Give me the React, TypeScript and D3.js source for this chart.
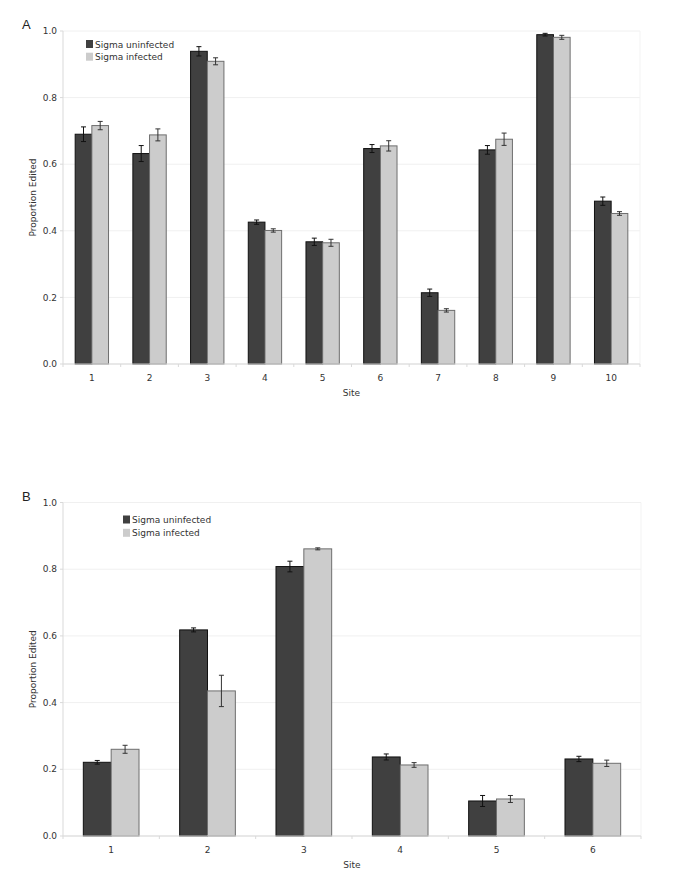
import React from "react";
import * as d3 from "d3";

// Panel A data
const sitesA = ["1", "2", "3", "4", "5", "6", "7", "8", "9", "10"];
const uninfA = [0.69, 0.632, 0.939, 0.426, 0.367, 0.647, 0.214, 0.643, 0.989, 0.489];
const uninfErrA = [0.022, 0.024, 0.014, 0.0065, 0.011, 0.012, 0.011, 0.013, 0.004, 0.0125];
const infA = [0.716, 0.688, 0.909, 0.401, 0.364, 0.655, 0.161, 0.675, 0.981, 0.452];
const infErrA = [0.0125, 0.018, 0.0105, 0.005, 0.0105, 0.0155, 0.005, 0.0185, 0.006, 0.0055];

// Panel B data
const sitesB = ["1", "2", "3", "4", "5", "6"];
const uninfB = [0.221, 0.618, 0.808, 0.237, 0.105, 0.231];
const uninfErrB = [0.0055, 0.006, 0.016, 0.009, 0.0165, 0.008];
const infB = [0.26, 0.435, 0.861, 0.213, 0.111, 0.218];
const infErrB = [0.012, 0.047, 0.003, 0.007, 0.0105, 0.0095];

const yTicks = [0, 0.2, 0.4, 0.6, 0.8, 1.0];
const seriesNames = ["Sigma uninfected", "Sigma infected"];
const yLabel = "Proportion Edited";
const xLabel = "Site";

const FONT = "DejaVu Sans, Verdana, sans-serif";
const DARK = "#404040";
const LIGHT = "#cccccc";

interface PanelProps {
  letter: string;
  sites: string[];
  s1: number[];
  e1: number[];
  s2: number[];
  e2: number[];
  left: number;
  right: number;
  top: number;
  bottom: number;
  legendX: number;
  legendY: number;
  legendGap: number;
}

function Panel(p: PanelProps) {
  const x = d3.scaleBand<string>().domain(p.sites).range([p.left, p.right]).padding(0);
  const inner = d3
    .scaleBand<string>()
    .domain(["s1", "s2"])
    .range([0, x.bandwidth()])
    .paddingInner(0)
    .paddingOuter(0.73);
  const y = d3.scaleLinear().domain([0, 1]).range([p.bottom, p.top]);
  const bw = inner.bandwidth();
  const cap = 2.5;

  const series = [
    { key: "s1", vals: p.s1, errs: p.e1, fill: DARK, stroke: "#111111", err: "#111111" },
    { key: "s2", vals: p.s2, errs: p.e2, fill: LIGHT, stroke: "#6e6e6e", err: "#333333" },
  ];

  const boundaries = p.sites.map((s) => x(s) as number).concat([p.right]);

  return (
    <g>
      <text x={22} y={p.top - 2} fontFamily="Arial, Liberation Sans, sans-serif" fontSize={13} fill="#222">
        {p.letter}
      </text>
      {/* gridlines */}
      {yTicks.map((t) => (
        <line key={"g" + t} x1={p.left} x2={p.right} y1={y(t)} y2={y(t)} stroke="#f0f0f0" strokeWidth={1} />
      ))}
      <line x1={p.right} x2={p.right} y1={p.top} y2={p.bottom} stroke="#f3f3f3" strokeWidth={1} />
      {/* y axis */}
      <line x1={p.left} x2={p.left} y1={p.top} y2={p.bottom} stroke="#d9d9d9" strokeWidth={1} />
      {yTicks.map((t) => (
        <g key={"yt" + t}>
          <line x1={p.left - 3} x2={p.left} y1={y(t)} y2={y(t)} stroke="#d9d9d9" />
          <text
            x={p.left - 6}
            y={y(t)}
            dy="0.35em"
            textAnchor="end"
            fontFamily={FONT}
            fontSize={9}
            fill="#333"
          >
            {d3.format(".1f")(t)}
          </text>
        </g>
      ))}
      {/* bars */}
      {series.map((s) =>
        p.sites.map((site, i) => {
          const bx = (x(site) as number) + (inner(s.key) as number);
          const v = s.vals[i];
          const e = s.errs[i];
          const cx = bx + bw / 2;
          return (
            <g key={s.key + site}>
              <rect
                x={bx}
                y={y(v)}
                width={bw}
                height={y(0) - y(v)}
                fill={s.fill}
                stroke={s.stroke}
                strokeWidth={1}
              />
              <line x1={cx} x2={cx} y1={y(v + e)} y2={y(v - e)} stroke={s.err} strokeWidth={1} />
              <line x1={cx - cap} x2={cx + cap} y1={y(v + e)} y2={y(v + e)} stroke={s.err} strokeWidth={1} />
              <line x1={cx - cap} x2={cx + cap} y1={y(v - e)} y2={y(v - e)} stroke={s.err} strokeWidth={1} />
            </g>
          );
        })
      )}
      {/* x axis */}
      <line x1={p.left} x2={p.right} y1={p.bottom} y2={p.bottom} stroke="#d9d9d9" strokeWidth={1} />
      {boundaries.map((bx, i) => (
        <line key={"xt" + i} x1={bx} x2={bx} y1={p.bottom} y2={p.bottom + 3} stroke="#d9d9d9" />
      ))}
      {p.sites.map((site) => (
        <text
          key={"xl" + site}
          x={(x(site) as number) + x.bandwidth() / 2}
          y={p.bottom + 17}
          textAnchor="middle"
          fontFamily={FONT}
          fontSize={9}
          fill="#333"
        >
          {site}
        </text>
      ))}
      <text
        x={(p.left + p.right) / 2}
        y={p.bottom + 32}
        textAnchor="middle"
        fontFamily={FONT}
        fontSize={9}
        fill="#333"
      >
        {xLabel}
      </text>
      <text
        transform={`translate(36,${(p.top + p.bottom) / 2}) rotate(-90)`}
        textAnchor="middle"
        fontFamily={FONT}
        fontSize={9}
        fill="#333"
      >
        {yLabel}
      </text>
      {/* legend */}
      {seriesNames.map((n, i) => (
        <g key={"lg" + n}>
          <rect
            x={p.legendX}
            y={p.legendY + i * p.legendGap}
            width={7}
            height={8}
            fill={i === 0 ? DARK : LIGHT}
          />
          <text
            x={p.legendX + 9}
            y={p.legendY + i * p.legendGap + 7.5}
            fontFamily={FONT}
            fontSize={9}
            fill="#333"
          >
            {n}
          </text>
        </g>
      ))}
    </g>
  );
}

export default function App() {
  return (
    <svg
      width={685}
      height={883}
      style={{ position: "absolute", left: 0, top: 0, background: "#fff" }}
    >
      <rect x={0} y={0} width={685} height={883} fill="#fff" />
      <Panel
        letter="A"
        sites={sitesA}
        s1={uninfA}
        e1={uninfErrA}
        s2={infA}
        e2={infErrA}
        left={63}
        right={640}
        top={31}
        bottom={364}
        legendX={86}
        legendY={40}
        legendGap={12.7}
      />
      <Panel
        letter="B"
        sites={sitesB}
        s1={uninfB}
        e1={uninfErrB}
        s2={infB}
        e2={infErrB}
        left={63}
        right={641}
        top={502.5}
        bottom={836}
        legendX={123}
        legendY={515.5}
        legendGap={13.3}
      />
    </svg>
  );
}
